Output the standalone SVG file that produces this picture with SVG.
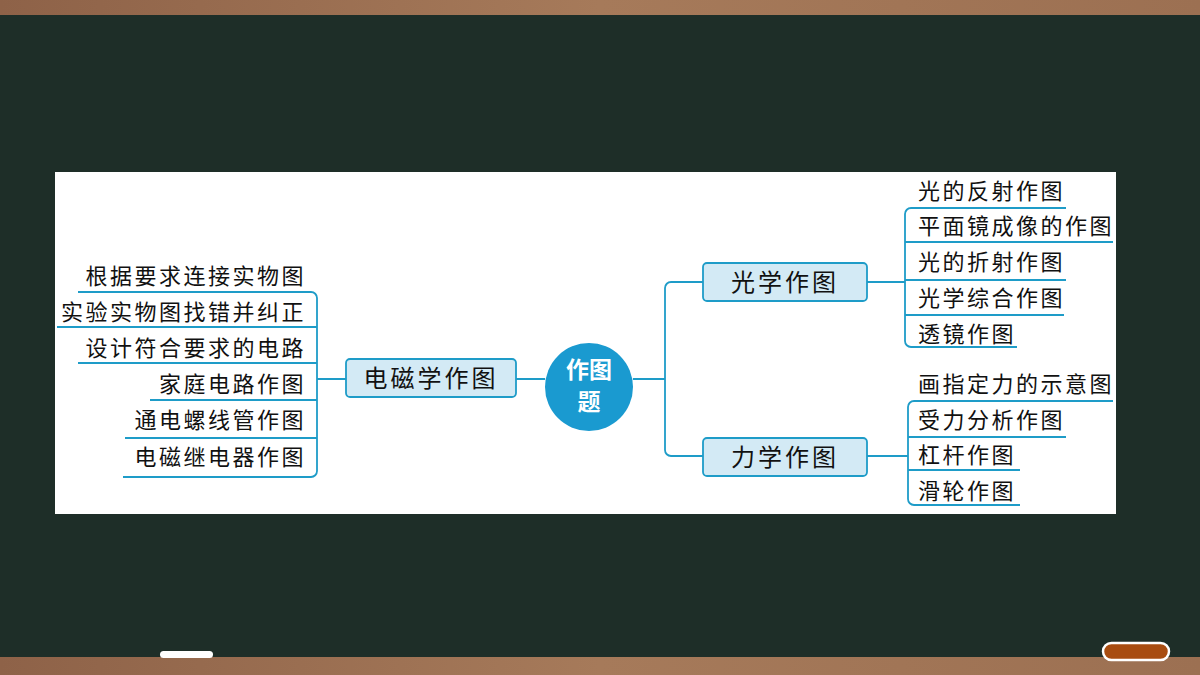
<svg xmlns="http://www.w3.org/2000/svg" width="1200" height="675" viewBox="0 0 1200 675">
<defs>
<linearGradient id="wood" x1="0" x2="1" y1="0" y2="0"><stop offset="0" stop-color="#8e6248"/><stop offset="0.5" stop-color="#a67a5a"/><stop offset="1" stop-color="#9c7052"/></linearGradient>
</defs>
<style>
.ln{fill:none;stroke:#1e9cc8;stroke-width:1.8}
.bx{fill:#d3eaf5;stroke:#1e9cc8;stroke-width:1.8}
.t{font-family:"Noto Sans CJK SC","Noto Sans",sans-serif;font-size:22px;fill:#111;letter-spacing:2.5px}
.b{font-family:"Noto Sans CJK SC",sans-serif;font-size:24px;fill:#111;letter-spacing:3px}
</style>
<rect width="1200" height="675" fill="#1e2e28"/>
<rect width="1200" height="15" fill="url(#wood)"/>
<rect y="657" width="1200" height="18" fill="url(#wood)"/>
<rect x="160" y="651" width="53" height="7" rx="3.5" fill="#fff"/>
<rect x="1103" y="643" width="66" height="17" rx="8.5" fill="#a84c10" stroke="#fff" stroke-width="2.5"/>
<rect x="55" y="172" width="1061" height="342" fill="#fff"/>
<g id="connectors">
<path class="ln" d="M78 292H311a6 6 0 0 1 6 6V471a6 6 0 0 1-6 6H123M57 327H317M78 363H317M150 400H317M125 438H317M317 379H346"/>
<path class="ln" d="M516 379H545M633 379H665M703 282H671a6 6 0 0 0-6 6V450a6 6 0 0 0 6 6H703"/>
<path class="ln" d="M867 282H905M1066 208H911a6 6 0 0 0-6 6V341a6 6 0 0 0 6 6H1017M905 242H1113M905 280H1066M905 315H1064"/>
<path class="ln" d="M867 456H908M1113 401H914a6 6 0 0 0-6 6V499a6 6 0 0 0 6 6H1020M908 437H1066M908 470H1020"/>
</g>
<g id="center"><circle cx="589" cy="387" r="44" fill="#1a9ad0"/>
<text x="589" y="378" text-anchor="middle" font-family="Noto Sans CJK SC,sans-serif" font-weight="bold" font-size="23" fill="#fff">作图</text>
<text x="589" y="410" text-anchor="middle" font-family="Noto Sans CJK SC,sans-serif" font-weight="bold" font-size="23" fill="#fff">题</text></g>
<g id="em"><rect class="bx" x="346" y="359" width="170" height="38" rx="4"/><text class="b" x="431" y="387" text-anchor="middle">电磁学作图</text></g>
<g id="opt"><rect class="bx" x="703" y="263" width="164" height="38" rx="4"/><text class="b" x="785" y="291" text-anchor="middle" letter-spacing="6">光学作图</text></g>
<g id="mech"><rect class="bx" x="703" y="438" width="164" height="38" rx="4"/><text class="b" x="785" y="466" text-anchor="middle" letter-spacing="6">力学作图</text></g>
<g id="left" text-anchor="end">
<text class="t" x="306" y="284">根据要求连接实物图</text>
<text class="t" x="306" y="320">实验实物图找错并纠正</text>
<text class="t" x="306" y="356">设计符合要求的电路</text>
<text class="t" x="306" y="392">家庭电路作图</text>
<text class="t" x="306" y="428">通电螺线管作图</text>
<text class="t" x="306" y="465">电磁继电器作图</text>
</g>
<g id="right">
<text class="t" x="918" y="199">光的反射作图</text>
<text class="t" x="918" y="234">平面镜成像的作图</text>
<text class="t" x="918" y="270">光的折射作图</text>
<text class="t" x="918" y="306">光学综合作图</text>
<text class="t" x="918" y="342">透镜作图</text>
<text class="t" x="918" y="392">画指定力的示意图</text>
<text class="t" x="918" y="428">受力分析作图</text>
<text class="t" x="918" y="463">杠杆作图</text>
<text class="t" x="918" y="499">滑轮作图</text>
</g>
</svg>
